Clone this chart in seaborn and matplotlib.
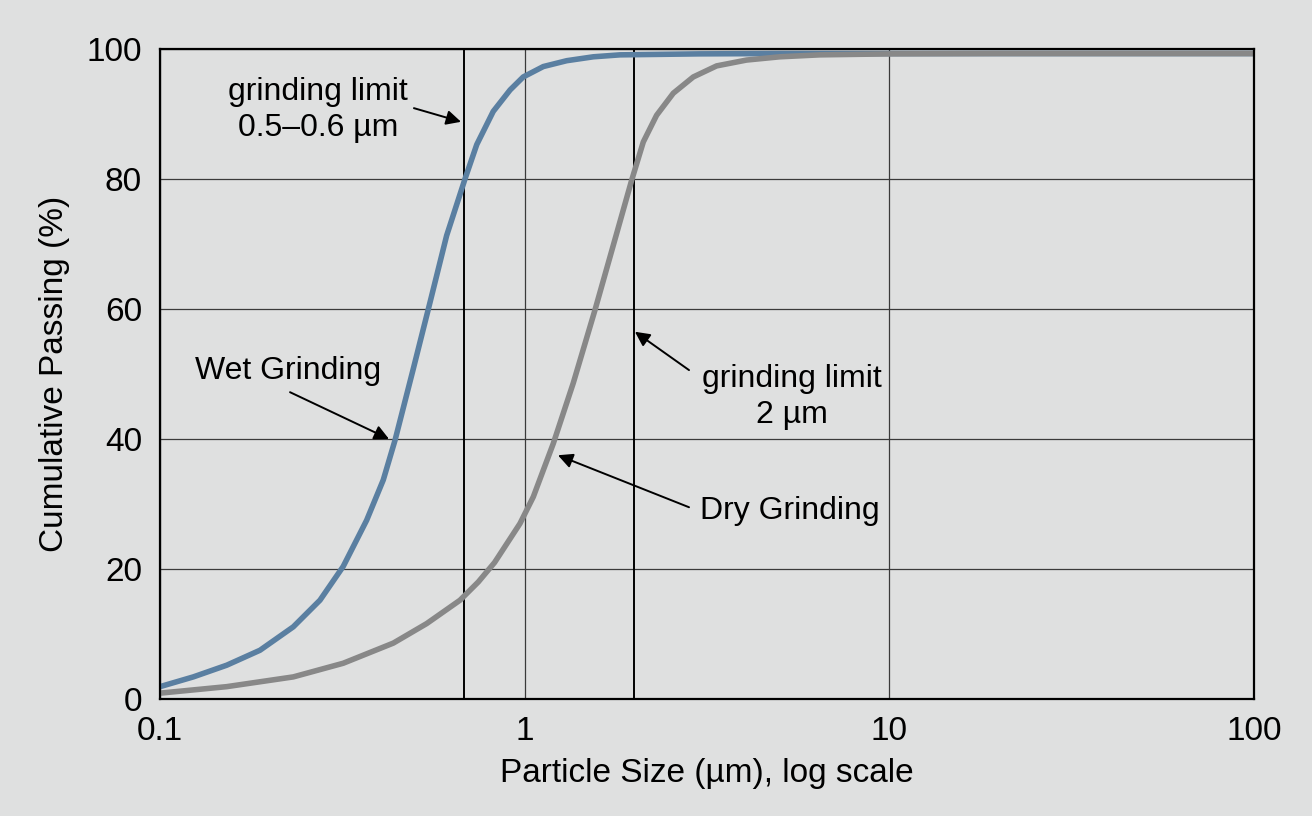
import matplotlib
matplotlib.use("Agg")
import matplotlib.pyplot as plt
import seaborn as sns
import pandas as pd
from matplotlib.ticker import FixedLocator, NullLocator

# ---- data ----
wet_size = [0.1, 0.1234, 0.1524, 0.188, 0.232, 0.2746, 0.318, 0.3687, 0.4095, 0.441,
            0.495, 0.55, 0.611, 0.686, 0.739, 0.820, 0.912, 0.991, 1.125, 1.304,
            1.543, 1.826, 3.0, 5.0, 100.0]
wet_pass = [1.9, 3.4, 5.2, 7.5, 11.1, 15.2, 20.4, 27.5, 33.7, 39.8,
            50.8, 61.0, 71.3, 80.0, 85.3, 90.4, 93.7, 95.7, 97.3, 98.2,
            98.8, 99.1, 99.25, 99.3, 99.3]

dry_size = [0.1, 0.1524, 0.232, 0.318, 0.4363, 0.5385, 0.6648, 0.746, 0.827, 0.971,
            1.056, 1.198, 1.359, 1.558, 1.787, 1.965, 2.115, 2.30, 2.556, 2.90,
            3.36, 4.06, 5.01, 6.45, 10.0, 20.0, 100.0]
dry_pass = [0.9, 1.9, 3.4, 5.5, 8.6, 11.6, 15.2, 18.0, 21.0, 27.0,
            31.1, 39.3, 48.6, 59.8, 71.6, 79.8, 85.7, 89.8, 93.2, 95.7,
            97.4, 98.3, 98.8, 99.1, 99.25, 99.3, 99.3]

limit_lines = [0.683, 2.0]
x_ticks = [0.1, 1, 10, 100]
x_tick_labels = ["0.1", "1", "10", "100"]
y_ticks = [0, 20, 40, 60, 80, 100]
y_tick_labels = ["0", "20", "40", "60", "80", "100"]

BG = "#dfe0e0"
WET_C = "#5a7fa1"
DRY_C = "#888888"

sns.set_theme(style="white")
plt.rcParams["font.family"] = ["Liberation Sans", "DejaVu Sans"]
plt.rcParams["text.color"] = "black"
plt.rcParams["axes.labelcolor"] = "black"

df = pd.concat([
    pd.DataFrame({"size": wet_size, "passing": wet_pass, "series": "Wet Grinding"}),
    pd.DataFrame({"size": dry_size, "passing": dry_pass, "series": "Dry Grinding"}),
], ignore_index=True)

fig = plt.figure(figsize=(13.12, 8.16), dpi=100, facecolor=BG)
ax = fig.add_axes([160/1312, 1 - 699/816, (1254 - 160)/1312, 650/816])
ax.set_facecolor(BG)
ax.set_xscale("log")

sns.lineplot(data=df, x="size", y="passing", hue="series",
             palette={"Wet Grinding": WET_C, "Dry Grinding": DRY_C},
             estimator=None, sort=False, linewidth=4.0, legend=False, ax=ax, zorder=4)
for ln in ax.get_lines():
    ln.set_solid_joinstyle("round")
    ln.set_solid_capstyle("butt")

for xv in limit_lines:
    ax.axvline(xv, color="black", lw=1.4, zorder=3)

ax.set_xlim(0.1, 100)
ax.set_ylim(0, 100)
ax.xaxis.set_major_locator(FixedLocator(x_ticks))
ax.xaxis.set_minor_locator(NullLocator())
ax.set_xticklabels(x_tick_labels)
ax.set_yticks(y_ticks)
ax.set_yticklabels(y_tick_labels)
ax.tick_params(axis="both", length=0, labelsize=24, colors="black")
ax.tick_params(axis="x", pad=12)
ax.tick_params(axis="y", pad=13)

ax.grid(True, which="major", color="#3a3a3a", lw=0.9, zorder=1)
ax.set_axisbelow(True)
for s in ax.spines.values():
    s.set_color("black")
    s.set_linewidth(1.6)
    s.set_zorder(5)

ax.set_xlabel("Particle Size (µm), log scale", fontsize=24, labelpad=8, color="black")
ax.set_ylabel("Cumulative Passing (%)", fontsize=24, labelpad=12, color="black")

box = dict(boxstyle="square,pad=0.2", facecolor=BG, edgecolor="none")
arrow = dict(arrowstyle="-|>", color="black", lw=1.4, mutation_scale=22,
             shrinkA=0, shrinkB=0)

ax.text(0.271, 90.6, "grinding limit\n0.5–0.6 µm", fontsize=23, ha="center",
        va="center", linespacing=1.25, color="black", zorder=6)
ax.annotate("", xy=(0.669, 88.8), xytext=(0.497, 90.9), arrowprops=arrow, zorder=6)

ax.text(0.2244, 50.5, "Wet Grinding", fontsize=23, ha="center", va="center",
        color="black", zorder=6)
ax.annotate("", xy=(0.4246, 40.0), xytext=(0.2273, 47.2), arrowprops=arrow, zorder=6)

ax.text(5.41, 46.5, "grinding limit\n2 µm", fontsize=23, ha="center", va="center",
        linespacing=1.25, bbox=box, color="black", zorder=6)
ax.annotate("", xy=(2.006, 56.5), xytext=(2.823, 50.6), arrowprops=arrow, zorder=6)

ax.text(5.34, 28.9, "Dry Grinding", fontsize=23, ha="center", va="center",
        bbox=box, color="black", zorder=6)
ax.annotate("", xy=(1.234, 37.5), xytext=(2.823, 29.5), arrowprops=arrow, zorder=6)

fig.savefig("out.png", dpi=100, facecolor=BG)
